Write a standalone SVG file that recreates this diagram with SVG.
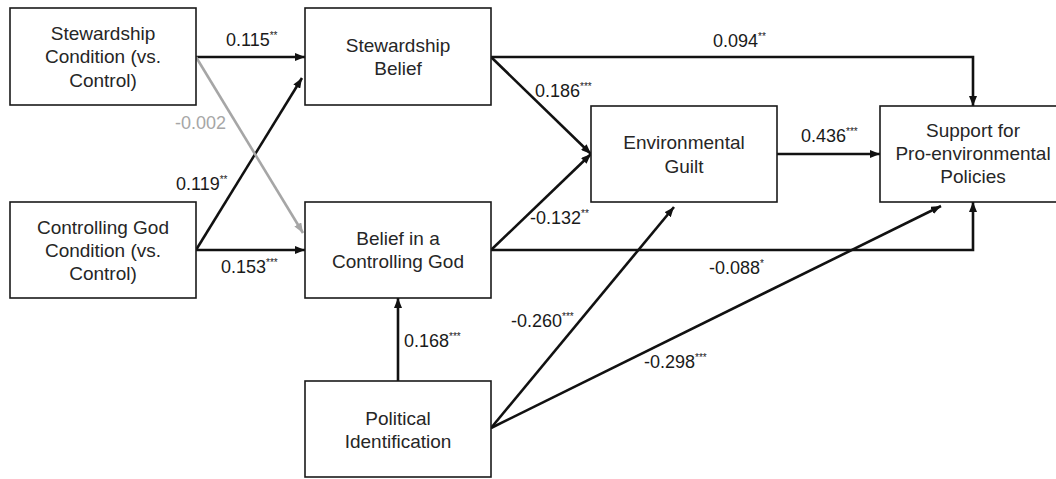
<svg xmlns="http://www.w3.org/2000/svg" width="1056" height="479" viewBox="0 0 1056 479">
<style>
.box{fill:#fff;stroke:#1a1a1a;stroke-width:1.6}
.nt{font-family:"Liberation Sans",Arial,sans-serif;font-size:19px;fill:#262626;text-anchor:middle}
.lb{font-family:"Liberation Sans",Arial,sans-serif;font-size:18px;fill:#1a1a1a}
.gl{fill:#a6a6a6}
.sup{font-size:10px}
.ed{fill:none;stroke:#111;stroke-width:2.6;marker-end:url(#ah)}
.eg{fill:none;stroke:#a6a6a6;stroke-width:2.6;marker-end:url(#ahg)}
</style>
<defs>
<marker id="ah" markerUnits="userSpaceOnUse" markerWidth="10" markerHeight="8" refX="10" refY="4" orient="auto"><path d="M0,0 L10,4 L0,8 z" fill="#111"/></marker>
<marker id="ahg" markerUnits="userSpaceOnUse" markerWidth="10" markerHeight="8" refX="10" refY="4" orient="auto"><path d="M0,0 L10,4 L0,8 z" fill="#a6a6a6"/></marker>
</defs>
<rect width="1056" height="479" fill="#fff"/>
<g id="connectors">
<line class="ed" x1="196" y1="57" x2="305" y2="57"/>
<line class="ed" x1="196" y1="250" x2="302" y2="78"/>
<line class="ed" x1="196" y1="250" x2="305" y2="250"/>
<line class="ed" x1="491" y1="57" x2="591" y2="154"/>
<line class="ed" x1="491" y1="250" x2="591" y2="154"/>
<polyline class="ed" points="491,57 973,57 973,106"/>
<polyline class="ed" points="491,250 973,250 973,202"/>
<line class="ed" x1="777" y1="154" x2="880" y2="154"/>
<line class="ed" x1="398" y1="381" x2="398" y2="298"/>
<line class="ed" x1="491" y1="428" x2="674" y2="207"/>
<line class="ed" x1="491" y1="428" x2="941" y2="206"/>
<line class="eg" x1="196" y1="57" x2="303" y2="233"/>
</g>
<g id="labels">
<text class="lb" x="226" y="46">0.115<tspan class="sup" dy="-7">**</tspan></text>
<text class="lb gl" x="175" y="129">-0.002</text>
<text class="lb" x="176" y="190">0.119<tspan class="sup" dy="-7">**</tspan></text>
<text class="lb" x="221" y="273">0.153<tspan class="sup" dy="-7">***</tspan></text>
<text class="lb" x="535" y="97">0.186<tspan class="sup" dy="-7">***</tspan></text>
<text class="lb" x="530" y="224">-0.132<tspan class="sup" dy="-7">**</tspan></text>
<text class="lb" x="713" y="47">0.094<tspan class="sup" dy="-7">**</tspan></text>
<text class="lb" x="801" y="142">0.436<tspan class="sup" dy="-7">***</tspan></text>
<text class="lb" x="709" y="274">-0.088<tspan class="sup" dy="-7">*</tspan></text>
<text class="lb" x="511" y="327">-0.260<tspan class="sup" dy="-7">***</tspan></text>
<text class="lb" x="644" y="368">-0.298<tspan class="sup" dy="-7">***</tspan></text>
<text class="lb" x="404" y="347">0.168<tspan class="sup" dy="-7">***</tspan></text>
</g>
<g id="stewardship-condition">
<rect class="box" x="10" y="8" width="186" height="97"/>
<text class="nt" x="103" y="40">Stewardship</text>
<text class="nt" x="103" y="63">Condition (vs.</text>
<text class="nt" x="103" y="87">Control)</text>
</g>
<g id="controlling-god-condition">
<rect class="box" x="10" y="202" width="186" height="96"/>
<text class="nt" x="103" y="234">Controlling God</text>
<text class="nt" x="103" y="257">Condition (vs.</text>
<text class="nt" x="103" y="280">Control)</text>
</g>
<g id="stewardship-belief">
<rect class="box" x="305" y="8" width="186" height="97"/>
<text class="nt" x="398" y="52">Stewardship</text>
<text class="nt" x="398" y="75">Belief</text>
</g>
<g id="belief-controlling-god">
<rect class="box" x="305" y="202" width="186" height="96"/>
<text class="nt" x="398" y="245">Belief in a</text>
<text class="nt" x="398" y="268">Controlling God</text>
</g>
<g id="political-identification">
<rect class="box" x="305" y="381" width="186" height="96"/>
<text class="nt" x="398" y="425">Political</text>
<text class="nt" x="398" y="448">Identification</text>
</g>
<g id="environmental-guilt">
<rect class="box" x="591" y="106" width="186" height="96"/>
<text class="nt" x="684" y="149">Environmental</text>
<text class="nt" x="684" y="173">Guilt</text>
</g>
<g id="support-policies">
<rect class="box" x="880" y="106" width="186" height="96"/>
<text class="nt" x="973" y="137">Support for</text>
<text class="nt" x="973" y="160">Pro-environmental</text>
<text class="nt" x="973" y="183">Policies</text>
</g>
</svg>
